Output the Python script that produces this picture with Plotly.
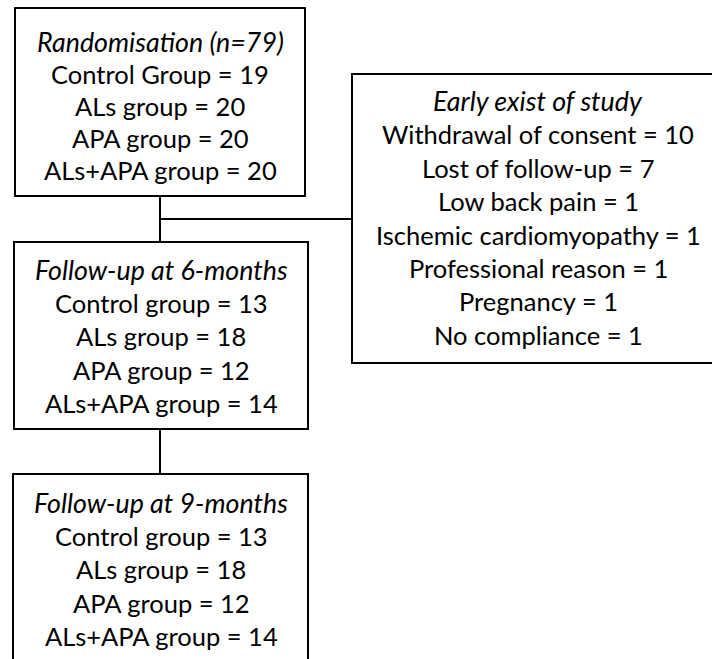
import plotly.graph_objects as go

# ---- data ----
box1_title = "Randomisation (n=79)"
box1_lines = ["Control Group = 19", "ALs group = 20", "APA group = 20", "ALs+APA group = 20"]

box2_title = "Follow-up at 6-months"
box2_lines = ["Control group = 13", "ALs group = 18", "APA group = 12", "ALs+APA group = 14"]

box3_title = "Follow-up at 9-months"
box3_lines = ["Control group = 13", "ALs group = 18", "APA group = 12", "ALs+APA group = 14"]

exit_title = "Early exist of study"
exit_lines = ["Withdrawal of consent = 10", "Lost of follow-up = 7", "Low back pain = 1",
              "Ischemic cardiomyopathy = 1", "Professional reason = 1", "Pregnancy = 1",
              "No compliance = 1"]

W, H = 712, 659
FONT = "Lato"
FS = 25.5
FS_TITLE = 26.8
LINE = dict(color="black", width=2)

fig = go.Figure()
fig.add_trace(go.Scatter(x=[0, W], y=[0, H], mode="markers", marker=dict(opacity=0),
                         hoverinfo="skip", showlegend=False))

boxes = [
    # (x0, y0, x1, y1, title, lines, cx, first_y, step)
    (15, 8, 305, 196, box1_title, box1_lines, 160, 42, 32),
    (14, 242, 308, 429, box2_title, box2_lines, 161, 270, 33.2),
    (13, 474, 308, 700, box3_title, box3_lines, 161, 503, 33.2),
    (352, 74, 724, 363, exit_title, exit_lines, 538, 101, 33.4),
]

shapes = []
annotations = []
for x0, y0, x1, y1, title, lines, cx, fy, step in boxes:
    shapes.append(dict(type="rect", xref="x", yref="y", x0=x0, y0=y0, x1=x1, y1=y1,
                       line=LINE, fillcolor="white", layer="below"))
    annotations.append(dict(x=cx, y=fy, xref="x", yref="y", text="<i>" + title + "</i>",
                            showarrow=False, xanchor="center", yanchor="middle",
                            font=dict(family=FONT, size=FS_TITLE, color="black")))
    for i, t in enumerate(lines):
        annotations.append(dict(x=cx, y=fy + step * (i + 1), xref="x", yref="y", text=t,
                                showarrow=False, xanchor="center", yanchor="middle",
                                font=dict(family=FONT, size=FS, color="black")))

# connectors
connectors = [
    (160, 196, 160, 242),
    (160, 219, 352, 219),
    (160, 429, 160, 474),
]
for x0, y0, x1, y1 in connectors:
    shapes.append(dict(type="line", xref="x", yref="y", x0=x0, y0=y0, x1=x1, y1=y1, line=LINE))

fig.update_layout(
    width=W, height=H,
    margin=dict(l=0, r=0, t=0, b=0),
    paper_bgcolor="white", plot_bgcolor="white",
    xaxis=dict(range=[0, W], visible=False, fixedrange=True),
    yaxis=dict(range=[H, 0], visible=False, fixedrange=True),
    shapes=shapes, annotations=annotations, showlegend=False,
)
fig.write_html("out.html", config={"displayModeBar": False},
               post_script="document.body.style.margin='0';document.body.style.overflow='hidden';")
